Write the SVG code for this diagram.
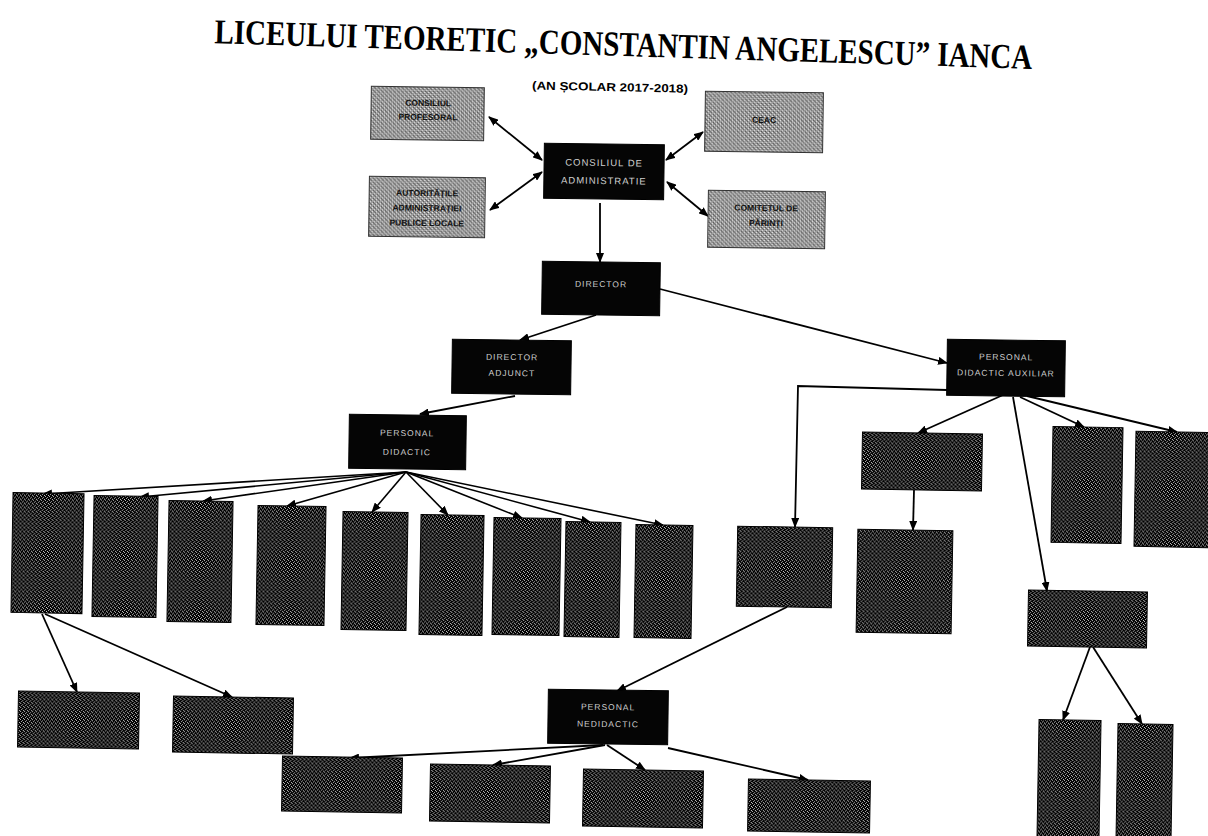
<svg xmlns="http://www.w3.org/2000/svg" width="1208" height="836" viewBox="0 0 1208 836">
<style>
.title{font-family:"Liberation Serif","Times New Roman",serif;font-weight:bold;font-size:35px;fill:#000}
.sub{font-family:"Liberation Sans",Arial,sans-serif;font-weight:bold;font-size:11.5px;fill:#000}
.dark{fill:url(#dk);stroke:#000;stroke-width:1}
.black{fill:#050505;stroke:#000;stroke-width:1}
.gray{fill:url(#gr);stroke:#333;stroke-width:1}
.wt{font-family:"Liberation Sans",Arial,sans-serif;font-size:8.5px;fill:#d0d0d0;letter-spacing:1px;text-anchor:middle}
.gt{font-family:"Liberation Sans",Arial,sans-serif;font-weight:bold;font-size:8.5px;fill:#111;text-anchor:middle}
.ln{stroke:#000;stroke-width:1.8;fill:none}
.one{marker-end:url(#ah)}
.two{marker-start:url(#ahs);marker-end:url(#ah)}
</style>
<defs>
<pattern id="dk" width="4" height="4" patternUnits="userSpaceOnUse">
<rect width="4" height="4" fill="#000"/>
<rect x="0" y="0" width="1" height="1" fill="#bbb"/>
<rect x="2" y="1" width="1" height="1" fill="#999"/>
<rect x="1" y="2" width="1" height="1" fill="#aaa"/>
<rect x="3" y="3" width="1" height="1" fill="#ccc"/>
</pattern>
<pattern id="gr" width="4" height="4" patternUnits="userSpaceOnUse">
<rect width="4" height="4" fill="#9c9c9c"/>
<rect x="0" y="0" width="1" height="1" fill="#f4f4f4"/>
<rect x="2" y="2" width="1" height="1" fill="#e6e6e6"/>
<rect x="1" y="3" width="1" height="1" fill="#444"/>
<rect x="3" y="1" width="1" height="1" fill="#555"/>
<rect x="2" y="0" width="1" height="1" fill="#666"/>
</pattern>
<marker id="ah" markerUnits="userSpaceOnUse" markerWidth="10" markerHeight="8" refX="9" refY="4" orient="auto">
<path d="M0,0 L10,4 L0,8 Z" fill="#000"/>
</marker>
<marker id="ahs" markerUnits="userSpaceOnUse" markerWidth="10" markerHeight="8" refX="1" refY="4" orient="auto">
<path d="M10,0 L0,4 L10,8 Z" fill="#000"/>
</marker>
</defs>
<rect width="1208" height="836" fill="#fff"/>

<g id="title">
<text class="title" x="214" y="56" textLength="818" lengthAdjust="spacingAndGlyphs" transform="rotate(1.8 623 56)">LICEULUI TEORETIC „CONSTANTIN ANGELESCU” IANCA</text>
</g>
<g id="subtitle">
<text class="sub" x="532" y="91" textLength="156" lengthAdjust="spacingAndGlyphs" transform="rotate(1.2 610 88)">(AN ȘCOLAR 2017-2018)</text>
</g>

<g id="connectors">
<line class="ln two" x1="489" y1="117" x2="542" y2="160"/>
<line class="ln two" x1="490" y1="210" x2="542" y2="172"/>
<line class="ln two" x1="703" y1="132" x2="666" y2="160"/>
<line class="ln two" x1="667" y1="182" x2="708" y2="216"/>
<line class="ln one" x1="600" y1="203" x2="600" y2="262"/>
<line class="ln one" x1="596" y1="315" x2="520" y2="340"/>
<line class="ln one" x1="660" y1="289" x2="947" y2="363"/>
<line class="ln one" x1="515" y1="396" x2="420" y2="414"/>
<g class="ln one" style="stroke-width:1.6">
<line x1="406" y1="472" x2="43" y2="494"/>
<line x1="406" y1="472" x2="140" y2="497"/>
<line x1="406" y1="472" x2="203" y2="501"/>
<line x1="406" y1="472" x2="287" y2="506"/>
<line x1="406" y1="472" x2="372" y2="512"/>
<line x1="406" y1="472" x2="448" y2="515"/>
<line x1="406" y1="472" x2="522" y2="518"/>
<line x1="406" y1="472" x2="590" y2="522"/>
<line x1="406" y1="472" x2="663" y2="525"/>
</g>
<line class="ln one" x1="42" y1="614" x2="77" y2="692"/>
<line class="ln one" x1="45" y1="614" x2="232" y2="697"/>
<polyline class="ln one" points="947,390 798,386 795,527"/>
<line class="ln one" x1="787" y1="607" x2="617" y2="691"/>
<line class="ln one" x1="1003" y1="395" x2="918" y2="433"/>
<line class="ln one" x1="914" y1="490" x2="913" y2="530"/>
<line class="ln one" x1="1013" y1="397" x2="1047" y2="591"/>
<line class="ln one" x1="1020" y1="397" x2="1084" y2="427"/>
<line class="ln one" x1="1027" y1="396" x2="1177" y2="432"/>
<line class="ln one" x1="1090" y1="647" x2="1063" y2="720"/>
<line class="ln one" x1="1093" y1="647" x2="1142" y2="724"/>
<line class="ln one" x1="603" y1="745" x2="350" y2="758"/>
<line class="ln one" x1="605" y1="745" x2="493" y2="765"/>
<line class="ln one" x1="607" y1="745" x2="645" y2="770"/>
<line class="ln one" x1="668" y1="748" x2="808" y2="780"/>
</g>

<g id="consiliul-profesoral" transform="rotate(0.8 428 113)">
<rect class="gray" x="371" y="87" width="113" height="53"/>
<text class="gt" x="428" y="106">CONSILIUL</text>
<text class="gt" x="428" y="120">PROFESORAL</text>
</g>
<g id="autoritati" transform="rotate(0.8 427 207)">
<rect class="gray" x="369" y="177" width="116" height="60"/>
<text class="gt" x="427" y="196">AUTORITĂȚILE</text>
<text class="gt" x="427" y="211">ADMINISTRAȚIEI</text>
<text class="gt" x="427" y="226">PUBLICE LOCALE</text>
</g>
<g id="consiliul-administratie" transform="rotate(0.8 604 171)">
<rect class="black" x="544" y="144" width="120" height="55"/>
<text class="wt" x="604" y="166" style="font-size:9.5px">CONSILIUL DE</text>
<text class="wt" x="604" y="184" style="font-size:9.5px">ADMINISTRATIE</text>
</g>
<g id="ceac" transform="rotate(0.8 764 122)">
<rect class="gray" x="705" y="92" width="118" height="60"/>
<text class="gt" x="764" y="123">CEAC</text>
</g>
<g id="comitetul-parinti" transform="rotate(0.8 766 220)">
<rect class="gray" x="708" y="191" width="117" height="57"/>
<text class="gt" x="766" y="211">COMITETUL DE</text>
<text class="gt" x="766" y="226">PĂRINȚI</text>
</g>

<g id="director" transform="rotate(0.8 601 288)">
<rect class="black" x="542" y="262" width="118" height="53"/>
<text class="wt" x="601" y="287">DIRECTOR</text>
</g>
<g id="director-adjunct" transform="rotate(0.8 511 367)">
<rect class="black" x="452" y="340" width="119" height="54"/>
<text class="wt" x="512" y="360">DIRECTOR</text>
<text class="wt" x="512" y="376">ADJUNCT</text>
</g>
<g id="personal-didactic-auxiliar" transform="rotate(0.8 1006 368)">
<rect class="black" x="947" y="340" width="118" height="56"/>
<text class="wt" x="1006" y="360">PERSONAL</text>
<text class="wt" x="1006" y="376">DIDACTIC AUXILIAR</text>
</g>
<g id="personal-didactic" transform="rotate(0.8 407 442)">
<rect class="black" x="349" y="415" width="117" height="54"/>
<text class="wt" x="407" y="436">PERSONAL</text>
<text class="wt" x="407" y="455">DIDACTIC</text>
</g>

<g id="pd-1" transform="rotate(1 47 553)"><rect class="dark" x="12" y="493" width="71" height="120"/></g>
<g id="pd-2" transform="rotate(1 125 556)"><rect class="dark" x="93" y="496" width="64" height="121"/></g>
<g id="pd-3" transform="rotate(1 200 561)"><rect class="dark" x="168" y="501" width="64" height="121"/></g>
<g id="pd-4" transform="rotate(1 291 565)"><rect class="dark" x="257" y="506" width="68" height="119"/></g>
<g id="pd-5" transform="rotate(1 374 571)"><rect class="dark" x="342" y="512" width="65" height="118"/></g>
<g id="pd-6" transform="rotate(1 451 575)"><rect class="dark" x="420" y="515" width="63" height="120"/></g>
<g id="pd-7" transform="rotate(1 526 576)"><rect class="dark" x="493" y="518" width="67" height="117"/></g>
<g id="pd-8" transform="rotate(1 592 579)"><rect class="dark" x="565" y="522" width="55" height="115"/></g>
<g id="pd-9" transform="rotate(1 663 581)"><rect class="dark" x="635" y="525" width="57" height="113"/></g>

<g id="pd-1-a" transform="rotate(1 78 720)"><rect class="dark" x="18" y="692" width="121" height="56"/></g>
<g id="pd-1-b" transform="rotate(1 233 725)"><rect class="dark" x="173" y="697" width="120" height="56"/></g>

<g id="aux-l" transform="rotate(1 784 567)"><rect class="dark" x="737" y="527" width="95" height="80"/></g>
<g id="aux-a" transform="rotate(1 922 461)"><rect class="dark" x="862" y="433" width="120" height="57"/></g>
<g id="aux-a2" transform="rotate(1 904 581)"><rect class="dark" x="857" y="530" width="95" height="103"/></g>
<g id="aux-d" transform="rotate(1 1087 485)"><rect class="dark" x="1052" y="427" width="70" height="116"/></g>
<g id="aux-e" transform="rotate(1 1172 489)"><rect class="dark" x="1135" y="432" width="75" height="115"/></g>
<g id="aux-c" transform="rotate(1 1087 619)"><rect class="dark" x="1028" y="591" width="119" height="56"/></g>
<g id="aux-c-1" transform="rotate(1 1069 780)"><rect class="dark" x="1038" y="720" width="62" height="120"/></g>
<g id="aux-c-2" transform="rotate(1 1144 782)"><rect class="dark" x="1117" y="724" width="55" height="116"/></g>

<g id="personal-nedidactic" transform="rotate(0.8 608 717)">
<rect class="black" x="548" y="690" width="120" height="54"/>
<text class="wt" x="608" y="710">PERSONAL</text>
<text class="wt" x="608" y="727">NEDIDACTIC</text>
</g>
<g id="pn-1" transform="rotate(1 342 785)"><rect class="dark" x="282" y="757" width="120" height="55"/></g>
<g id="pn-2" transform="rotate(1 490 793)"><rect class="dark" x="430" y="765" width="120" height="57"/></g>
<g id="pn-3" transform="rotate(1 643 798)"><rect class="dark" x="583" y="770" width="120" height="57"/></g>
<g id="pn-4" transform="rotate(1 809 806)"><rect class="dark" x="748" y="780" width="122" height="52"/></g>
</svg>
